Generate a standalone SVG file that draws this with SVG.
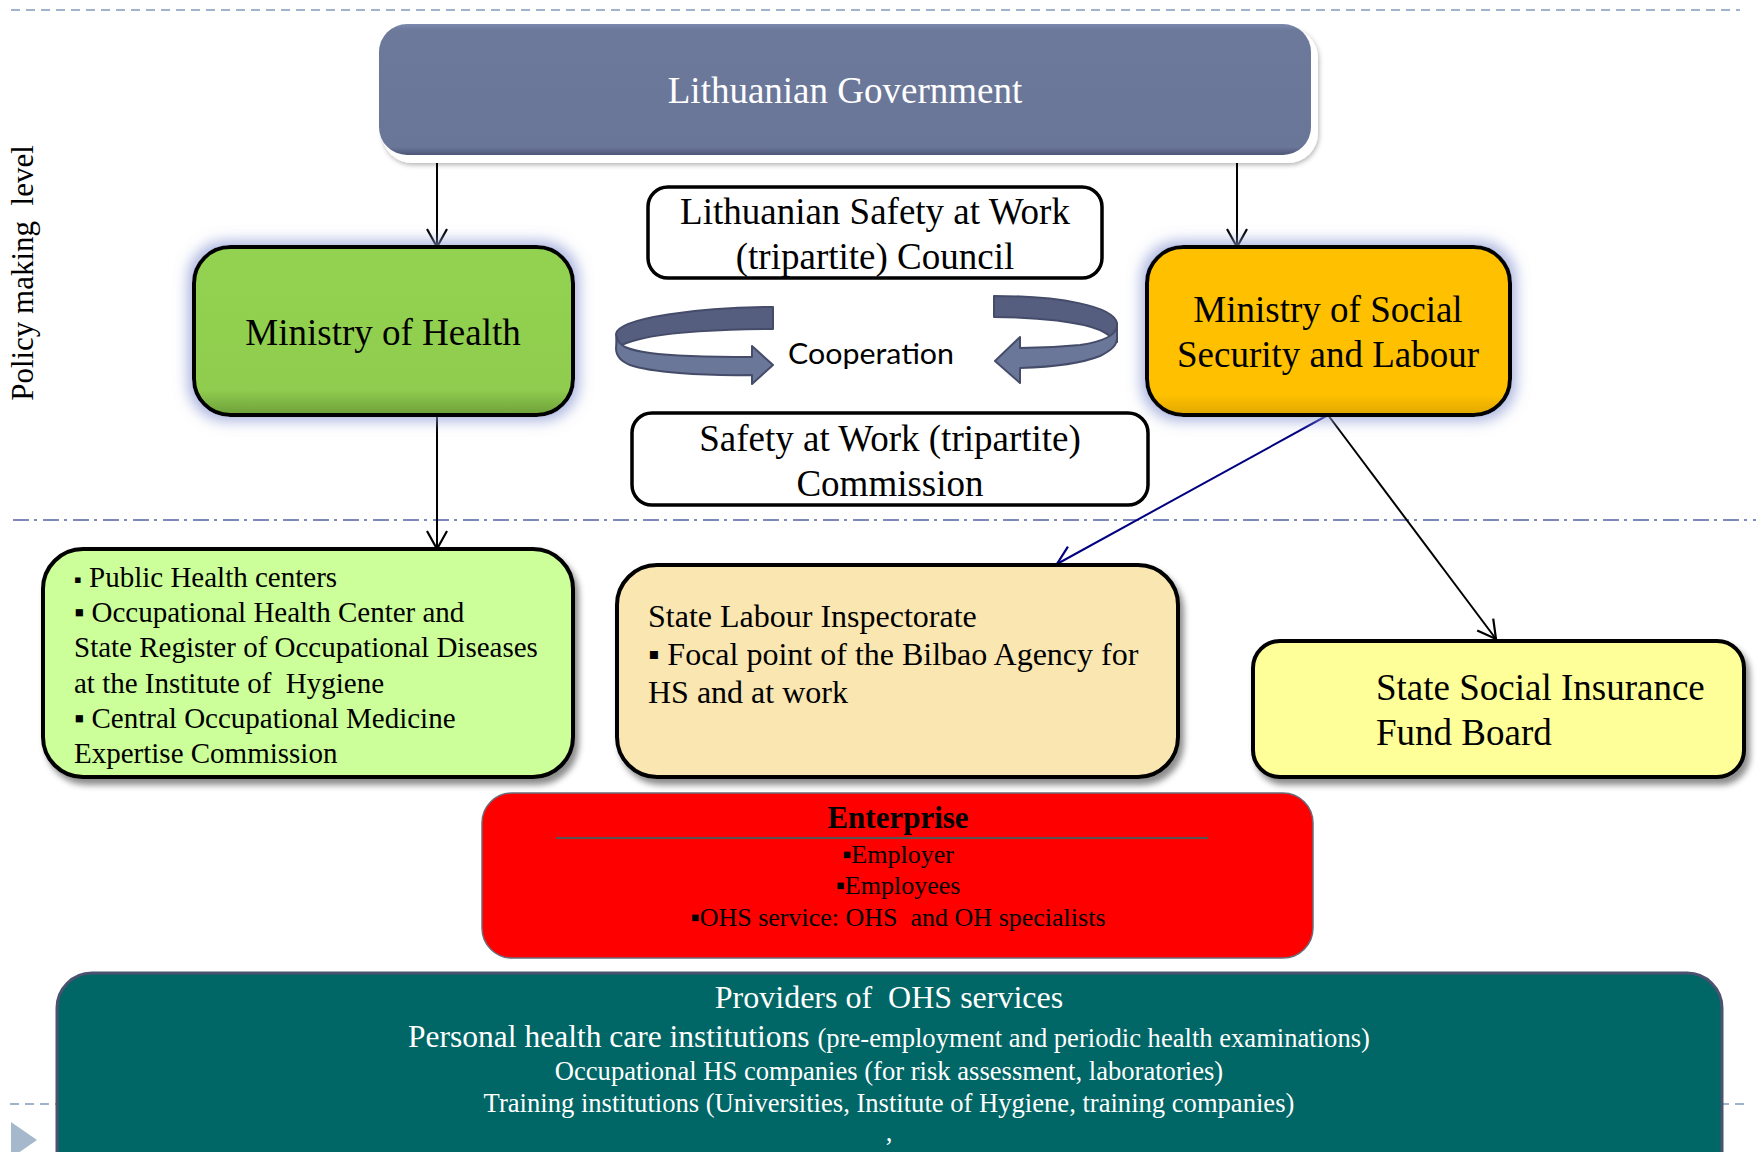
<svg xmlns="http://www.w3.org/2000/svg" width="1756" height="1152" viewBox="0 0 1756 1152">
<style>
.serif{font-family:"Liberation Serif","Times New Roman",serif;white-space:pre}
.box{stroke:#000;stroke-width:4}
.thin{stroke:#000;stroke-width:3.5;fill:#fff}
.conn{fill:none;stroke-width:2}
.dash{fill:none;stroke:#9fb4ca;stroke-width:2;stroke-dasharray:9 6}
.dashdot{fill:none;stroke:#7d88ba;stroke-width:2;stroke-dasharray:16 5 3 6}
.coopBack{fill:#565e80;stroke:#454c6a;stroke-width:2;stroke-linejoin:round}
.coopFront{fill:#6b7799;stroke:#454c6a;stroke-width:2;stroke-linejoin:round}
</style>
<defs>
<linearGradient id="govGrad" x1="0" y1="0" x2="0" y2="1">
<stop offset="0" stop-color="#7c88ad"/>
<stop offset="0.05" stop-color="#6d799b"/>
<stop offset="0.94" stop-color="#6a7698"/>
<stop offset="1" stop-color="#4c5677"/>
</linearGradient>
<linearGradient id="mohGrad" x1="0" y1="0" x2="0" y2="1">
<stop offset="0" stop-color="#93d251"/>
<stop offset="0.85" stop-color="#90cd4f"/>
<stop offset="1" stop-color="#6e9f3a"/>
</linearGradient>
<linearGradient id="mossGrad" x1="0" y1="0" x2="0" y2="1">
<stop offset="0" stop-color="#ffc000"/>
<stop offset="0.88" stop-color="#ffc000"/>
<stop offset="1" stop-color="#e0a800"/>
</linearGradient>
<filter id="glow" x="-15%" y="-20%" width="130%" height="140%">
<feMorphology operator="dilate" radius="4" in="SourceAlpha" result="d"/>
<feGaussianBlur in="d" stdDeviation="7" result="b"/>
<feFlood flood-color="#8e9bd4" flood-opacity="0.75"/>
<feComposite in2="b" operator="in" result="g"/>
<feMerge><feMergeNode in="g"/><feMergeNode in="SourceGraphic"/></feMerge>
</filter>
<filter id="shadow" x="-5%" y="-10%" width="115%" height="130%">
<feDropShadow dx="4" dy="6" stdDeviation="3" flood-color="#000" flood-opacity="0.45"/>
</filter>
<filter id="soft" x="-5%" y="-10%" width="115%" height="130%">
<feDropShadow dx="1" dy="2" stdDeviation="2.5" flood-color="#000" flood-opacity="0.3"/>
</filter>
<marker id="arrBlack" markerUnits="userSpaceOnUse" viewBox="0 0 22 24" markerWidth="22" markerHeight="24" refX="20" refY="12" orient="auto">
<path d="M2,2 L20,12 L2,22" fill="none" stroke="#000" stroke-width="2.2"/>
</marker>
<marker id="arrNavy" markerUnits="userSpaceOnUse" viewBox="0 0 22 24" markerWidth="22" markerHeight="24" refX="20" refY="12" orient="auto">
<path d="M2,2 L20,12 L2,22" fill="none" stroke="#000080" stroke-width="2.2"/>
</marker>
</defs>

<rect width="1756" height="1152" fill="#fff"/>

<g id="guides">
<line class="dash" x1="11" y1="10" x2="1740" y2="10"/>
<line class="dashdot" x1="13" y1="520" x2="1756" y2="520"/>
<line class="dash" x1="10" y1="1104" x2="1750" y2="1104"/>
<polygon points="11,1122 37,1140 11,1158" fill="#a5b8cc"/>
<text class="serif" xml:space="preserve" font-size="31" fill="#000" text-anchor="middle" transform="translate(33,273) rotate(-90)">Policy making  level</text>
</g>

<g id="connectors">
<line class="conn" stroke="#000" x1="437" y1="157" x2="437" y2="247" marker-end="url(#arrBlack)"/>
<line class="conn" stroke="#000" x1="1237" y1="157" x2="1237" y2="247" marker-end="url(#arrBlack)"/>
<line class="conn" stroke="#000" x1="437" y1="415" x2="437" y2="549" marker-end="url(#arrBlack)"/>
<line class="conn" stroke="#000080" x1="1328" y1="415" x2="1057" y2="564" marker-end="url(#arrNavy)"/>
<line class="conn" stroke="#000" x1="1328" y1="415" x2="1496" y2="639" marker-end="url(#arrBlack)"/>
</g>

<g id="government">
<rect x="382" y="28" width="936" height="135" rx="30" fill="#fff" filter="url(#soft)"/>
<rect x="379" y="24" width="932" height="131" rx="28" fill="url(#govGrad)"/>
<text class="serif" x="845" y="103" font-size="37" fill="#fff" text-anchor="middle">Lithuanian Government</text>
</g>

<g id="ministry-health">
<rect class="box" x="194" y="247" width="379" height="168" rx="36" fill="url(#mohGrad)" filter="url(#glow)"/>
<text class="serif" x="383" y="345" font-size="37" fill="#000" text-anchor="middle">Ministry of Health</text>
</g>

<g id="ministry-social">
<rect class="box" x="1147" y="247" width="363" height="168" rx="36" fill="url(#mossGrad)" filter="url(#glow)"/>
<text class="serif" x="1328" y="322" font-size="37" fill="#000" text-anchor="middle">Ministry of Social</text>
<text class="serif" x="1328" y="367" font-size="37" fill="#000" text-anchor="middle">Security and Labour</text>
</g>

<g id="council">
<rect class="thin" x="648" y="187" width="454" height="91" rx="20"/>
<text class="serif" x="875" y="224" font-size="37" fill="#000" text-anchor="middle">Lithuanian Safety at Work</text>
<text class="serif" x="875" y="269" font-size="37" fill="#000" text-anchor="middle">(tripartite) Council</text>
</g>

<g id="cooperation">
<path class="coopBack" d="M773,307 L773,329 C725,329 668,332 640,339 C628,342 620,345 617,348 L616,334 C618,318 700,307 773,307 Z"/>
<path class="coopFront" d="M617,337 C618,346 628,350 650,353 C680,357 720,357 752,357 L752,346 L773,365 L752,384 L752,375 C700,376 650,372 630,365 C620,361 616,356 616,348 Z"/>
<path class="coopBack" d="M994,296 L994,317 C1040,317 1080,322 1100,330 C1108,334 1113,338 1117,342 L1117,323 C1113,306 1060,296 994,296 Z"/>
<path class="coopFront" d="M1117,326 C1116,336 1100,342 1080,345 C1060,347 1040,348 1020,348 L1020,337 L995,361 L1020,383 L1020,368 C1050,367 1080,364 1100,356 C1112,350 1117,345 1117,338 Z"/>
<text x="871" y="364" font-family="Lato,'Open Sans',sans-serif" font-size="28" fill="#000" text-anchor="middle" textLength="166" lengthAdjust="spacingAndGlyphs">Cooperation</text>
</g>

<g id="commission">
<rect class="thin" x="632" y="413" width="516" height="92" rx="20"/>
<text class="serif" x="890" y="451" font-size="37" fill="#000" text-anchor="middle">Safety at Work (tripartite)</text>
<text class="serif" x="890" y="496" font-size="37" fill="#000" text-anchor="middle">Commission</text>
</g>

<g id="public-health">
<rect class="box" x="43" y="549" width="530" height="228" rx="40" fill="#ccff99" filter="url(#shadow)"/>
<g class="serif" font-size="29" fill="#000">
<text x="74" y="587"><tspan font-size="22">▪</tspan> Public Health centers</text>
<text x="74" y="622">▪ Occupational Health Center and</text>
<text x="74" y="657">State Register of Occupational Diseases</text>
<text x="74" y="693" xml:space="preserve">at the Institute of  Hygiene</text>
<text x="74" y="728">▪ Central Occupational Medicine</text>
<text x="74" y="763">Expertise Commission</text>
</g>
</g>

<g id="labour-inspectorate">
<rect class="box" x="617" y="565" width="561" height="212" rx="40" fill="#fae6b0" filter="url(#shadow)"/>
<g class="serif" font-size="32" fill="#000">
<text x="648" y="627">State Labour Inspectorate</text>
<text x="648" y="665">▪ Focal point of the Bilbao Agency for</text>
<text x="648" y="703">HS and at work</text>
</g>
</g>

<g id="social-insurance">
<rect class="box" x="1253" y="641" width="491" height="136" rx="27" fill="#ffff99" filter="url(#shadow)"/>
<text class="serif" x="1376" y="700" font-size="37" fill="#000">State Social Insurance</text>
<text class="serif" x="1376" y="745" font-size="37" fill="#000">Fund Board</text>
</g>

<g id="enterprise">
<rect x="482" y="793" width="831" height="165" rx="30" fill="#ff0000" stroke="#6b6b7a" stroke-width="1.5"/>
<text class="serif" x="898" y="828" font-size="31" font-weight="bold" fill="#000" text-anchor="middle">Enterprise</text>
<line x1="556" y1="838" x2="1208" y2="838" stroke="#555" stroke-width="2"/>
<g class="serif" font-size="26" fill="#000" text-anchor="middle">
<text x="898" y="863">▪Employer</text>
<text x="898" y="894">▪Employees</text>
<text x="898" y="926" xml:space="preserve">▪OHS service: OHS  and OH specialists</text>
</g>
</g>

<g id="providers">
<rect x="57" y="973" width="1665" height="220" rx="35" fill="#006666" stroke="#4b5270" stroke-width="3"/>
<g class="serif" fill="#fff" text-anchor="middle">
<text x="889" y="1008" font-size="32" xml:space="preserve">Providers of  OHS services</text>
<text x="889" y="1047" font-size="31.5">Personal health care institutions <tspan font-size="26.6">(pre-employment and periodic health examinations)</tspan></text>
<text x="889" y="1080" font-size="26.6">Occupational HS companies (for risk assessment, laboratories)</text>
<text x="889" y="1112" font-size="26.6">Training institutions (Universities, Institute of Hygiene, training companies)</text>
<text x="889" y="1141" font-size="26.6">,</text>
</g>
</g>
</svg>
